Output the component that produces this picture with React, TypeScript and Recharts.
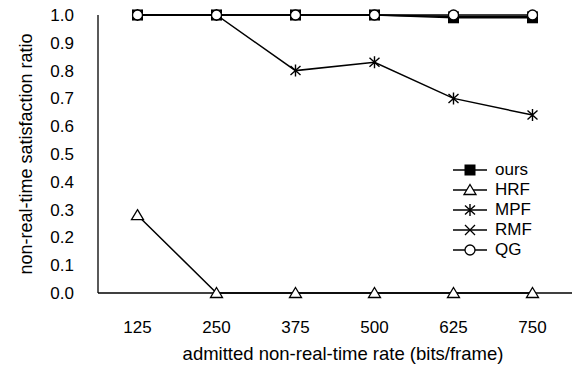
import React from 'react';
import { LineChart, Line, XAxis, YAxis } from 'recharts';

// admitted non-real-time rate (bits/frame)
const rates = [125, 250, 375, 500, 625, 750];
// tick marks between the categories on the x axis
const rateEdges = [62.5, 187.5, 312.5, 437.5, 562.5, 687.5, 812.5];
const yTicks = [0, 0.1, 0.2, 0.3, 0.4, 0.5, 0.6, 0.7, 0.8, 0.9, 1.0];

const ours = [1, 1, 1, 1, 0.99, 0.99];
const hrf = [0.28, 0, 0, 0, 0, 0];
const mpf = [1, 1, 0.8, 0.83, 0.7, 0.64];
const rmf = [1, 1, 1, 1, 0.995, 0.995];
const qg = [1, 1, 1, 1, 1, 1];

const FONT = '"Liberation Sans", Arial, sans-serif';
const INK = '#000';

const data = rates.map((rate, i) => ({
  rate,
  ours: ours[i],
  HRF: hrf[i],
  MPF: mpf[i],
  RMF: rmf[i],
  QG: qg[i],
}));

// marker shapes, used by the dots and by the legend
type Shape = (cx: number, cy: number) => React.ReactElement;

const square: Shape = (cx, cy) => (
  <rect x={cx - 5.5} y={cy - 5.5} width={11} height={11} fill={INK} />
);
const triangle: Shape = (cx, cy) => (
  <path
    d={`M${cx},${cy - 5.5} L${cx + 6},${cy + 4.5} L${cx - 6},${cy + 4.5} Z`}
    fill="#fff"
    stroke={INK}
    strokeWidth={1.3}
  />
);
const star: Shape = (cx, cy) => (
  <path
    d={`M${cx},${cy - 6} L${cx},${cy + 6} M${cx - 5},${cy - 4.5} L${cx + 5},${cy + 4.5} M${cx - 5},${cy + 4.5} L${cx + 5},${cy - 4.5}`}
    stroke={INK}
    strokeWidth={1.4}
    fill="none"
  />
);
const cross: Shape = (cx, cy) => (
  <path
    d={`M${cx - 5},${cy - 5} L${cx + 5},${cy + 5} M${cx - 5},${cy + 5} L${cx + 5},${cy - 5}`}
    stroke={INK}
    strokeWidth={1.3}
    fill="none"
  />
);
const circle: Shape = (cx, cy) => (
  <circle cx={cx} cy={cy} r={5} fill="#fff" stroke={INK} strokeWidth={1.3} />
);

const series: { key: string; shape: Shape }[] = [
  { key: 'ours', shape: square },
  { key: 'HRF', shape: triangle },
  { key: 'MPF', shape: star },
  { key: 'RMF', shape: cross },
  { key: 'QG', shape: circle },
];

const makeDot = (shape: Shape) => (p: any) => (
  <g key={`dot-${p.index}`}>{shape(p.cx, p.cy)}</g>
);

const LegendBox = () => (
  <div
    style={{
      position: 'absolute',
      left: 453,
      top: 160,
      fontFamily: FONT,
      fontSize: 17,
      color: INK,
      lineHeight: '20px',
    }}
  >
    {series.map((s) => (
      <div key={s.key} style={{ display: 'flex', alignItems: 'center', height: 20 }}>
        <svg width={35} height={20}>
          <line x1={0} x2={34} y1={10} y2={10} stroke={INK} strokeWidth={1.5} />
          {s.shape(17, 10)}
        </svg>
        <span style={{ marginLeft: 7 }}>{s.key}</span>
      </div>
    ))}
  </div>
);

export default function App() {
  return (
    <div
      style={{
        position: 'absolute',
        left: 0,
        top: 0,
        width: 584,
        height: 369,
        background: '#fff',
      }}
    >
      <LineChart
        width={584}
        height={369}
        data={data}
        margin={{ top: 15, right: 12, bottom: 0, left: 0 }}
      >
        <XAxis
          dataKey="rate"
          type="number"
          domain={[62.5, 812.5]}
          ticks={rates}
          interval={0}
          height={76}
          tickLine={false}
          axisLine={{ stroke: INK, strokeWidth: 1.3 }}
          tickMargin={22}
          tick={{ fill: INK, fontSize: 17, fontFamily: FONT }}
          label={{
            value: 'admitted non-real-time rate (bits/frame)',
            position: 'insideBottom',
            offset: 9,
            dx: 8,
            fill: INK,
            fontSize: 18.5,
            fontFamily: FONT,
          }}
        />
        <XAxis
          xAxisId="edges"
          dataKey="rate"
          type="number"
          domain={[62.5, 812.5]}
          ticks={rateEdges}
          interval={0}
          mirror
          tick={false}
          axisLine={false}
          tickSize={7}
          tickLine={{ stroke: INK, strokeWidth: 1 }}
        />
        <YAxis
          type="number"
          domain={[0, 1]}
          ticks={yTicks}
          interval={0}
          width={98}
          tickLine={false}
          axisLine={{ stroke: INK, strokeWidth: 1.3 }}
          tickMargin={18}
          tickFormatter={(v: number) => v.toFixed(1)}
          tick={{ fill: INK, fontSize: 17, fontFamily: FONT }}
          label={{
            value: 'non-real-time satisfaction ratio',
            angle: -90,
            position: 'center',
            dx: -23,
            fill: INK,
            fontSize: 18,
            fontFamily: FONT,
          }}
        />
        <YAxis
          yAxisId="inner"
          type="number"
          domain={[0, 1]}
          ticks={yTicks}
          interval={0}
          mirror
          tick={false}
          axisLine={false}
          tickSize={7}
          tickLine={{ stroke: INK, strokeWidth: 1 }}
        />
        {series.map((s) => (
          <Line
            key={s.key}
            dataKey={s.key}
            type="linear"
            stroke={INK}
            strokeWidth={1.5}
            dot={makeDot(s.shape)}
            activeDot={false}
            isAnimationActive={false}
          />
        ))}
      </LineChart>
      <LegendBox />
    </div>
  );
}
